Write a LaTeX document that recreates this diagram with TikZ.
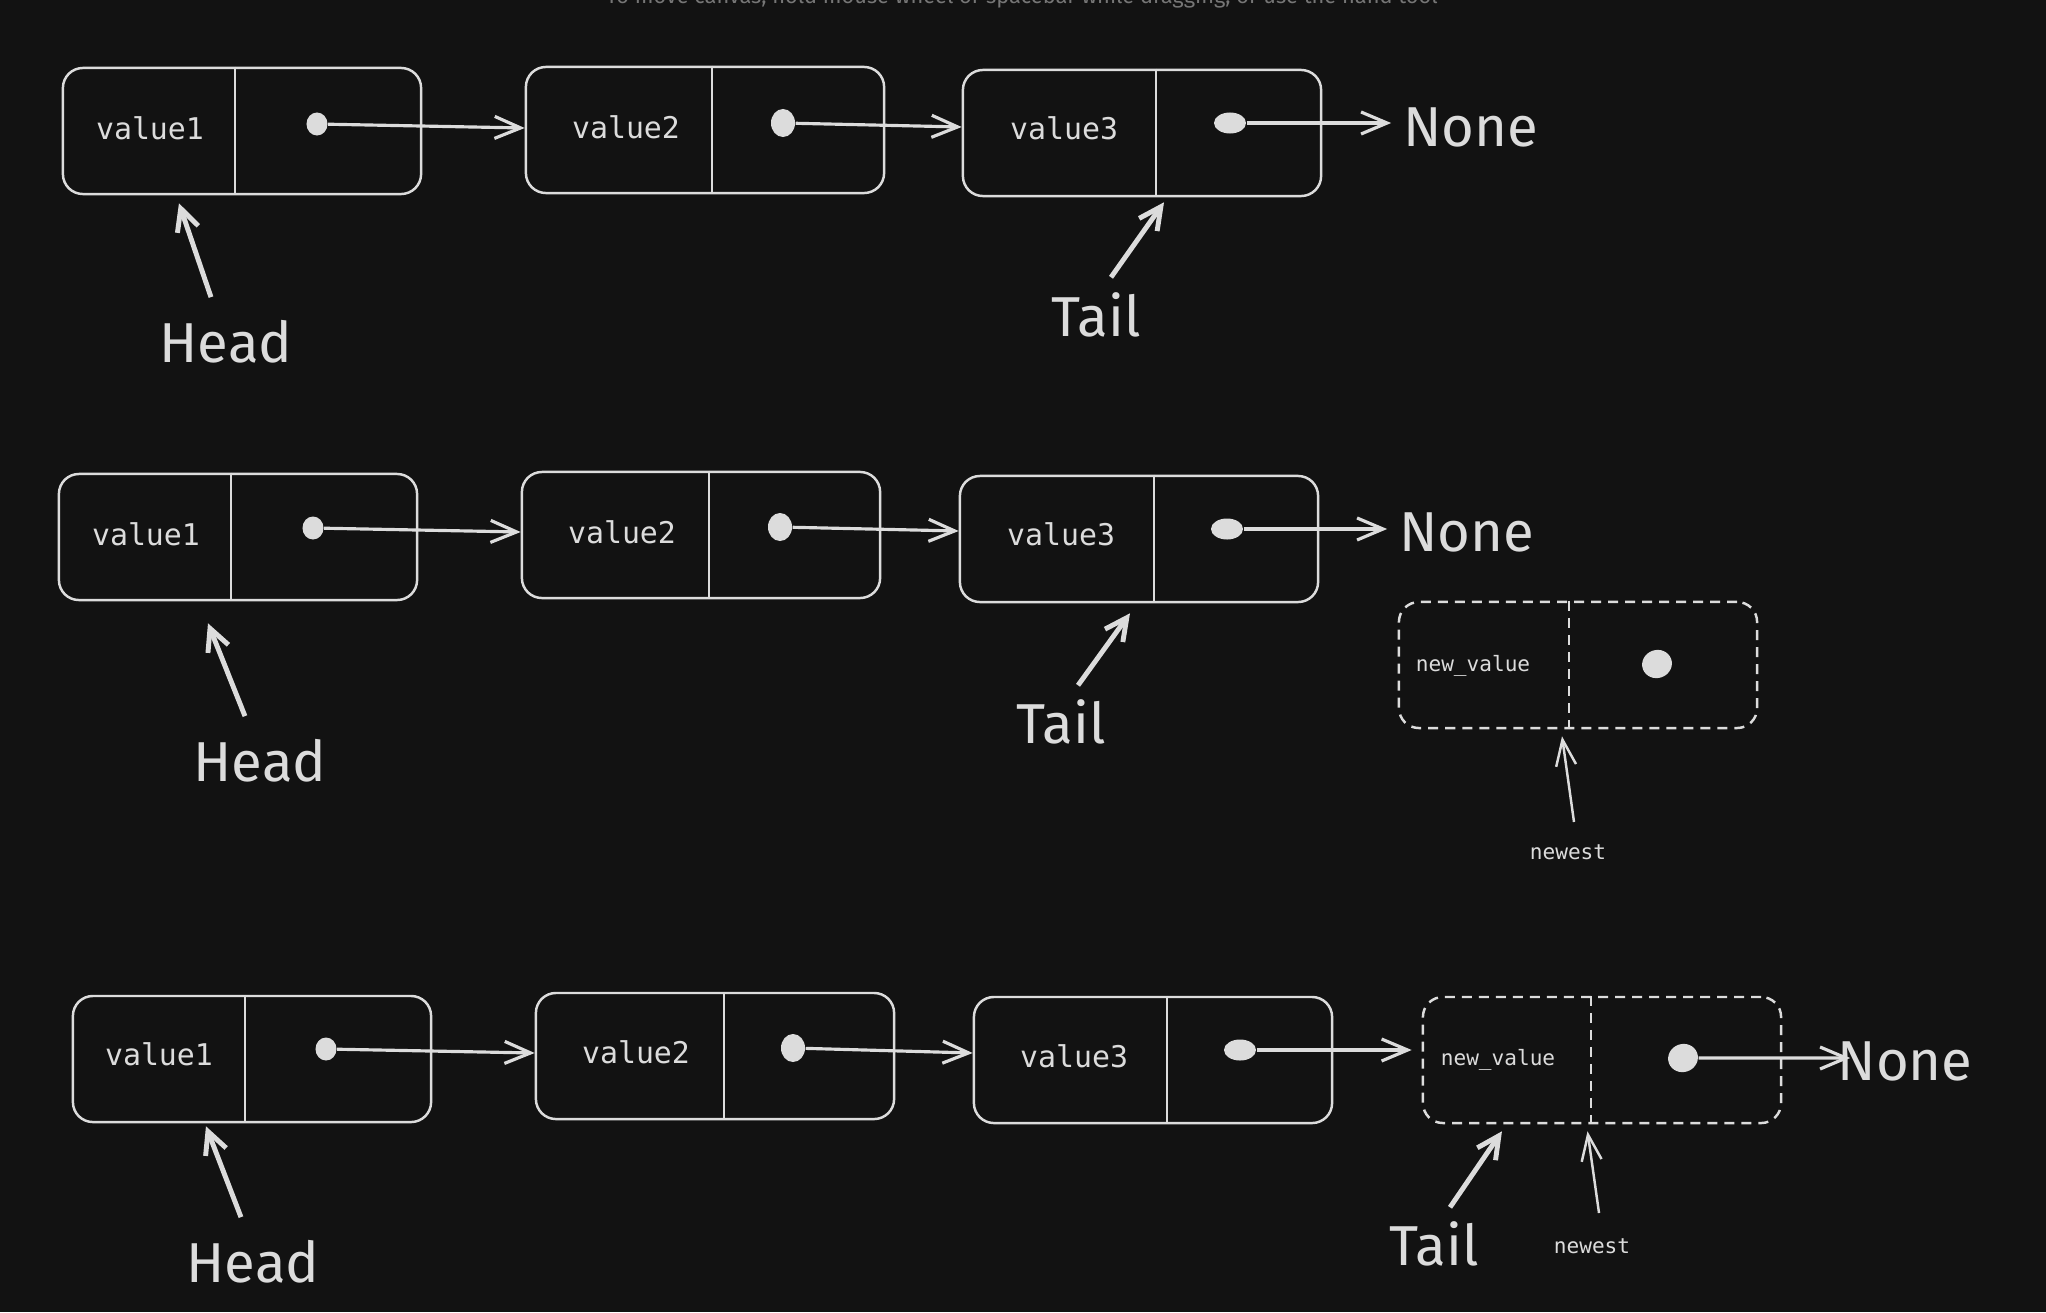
\documentclass[tikz,border=0pt]{standalone}
\usepackage{fontspec}
\usepackage{xcolor}
\setmainfont{Fira Sans}
\newfontfamily\codefont{DejaVu Sans Mono}
\usetikzlibrary{calc,arrows.meta,shapes.geometric}
\definecolor{bg}{HTML}{121212}
\definecolor{ink}{HTML}{DCDCDC}
\definecolor{hint}{HTML}{767676}

\begin{document}
\begin{tikzpicture}[x=0.01cm,y=-0.01cm]
        \tikzset{
          nodebox/.style={draw=ink,rounded corners=0.2cm,minimum width=3.58cm,minimum height=1.26cm,line width=0.7pt,inner sep=0pt},
          newbox/.style={nodebox,dash pattern=on 0.1cm off 0.07cm},
          divider/.style={draw=ink,line width=0.7pt},
          newdivider/.style={divider,dash pattern=on 0.1cm off 0.07cm},
          val/.style={text=ink,font=\codefont\fontsize{8.5}{10}\selectfont},
          smallval/.style={text=ink,font=\codefont\fontsize{6}{7}\selectfont},
          bigtext/.style={text=ink,font=\fontsize{16}{19}\selectfont},
          ptrdot/.style={fill=ink,ellipse,inner sep=0pt},
          link/.style={draw=ink,line width=0.9pt,-{Straight Barb[length=0.26cm,width=0.22cm]}},
          ptr/.style={draw=ink,line width=1.4pt,-{Straight Barb[length=0.22cm,width=0.22cm]}},
          thinptr/.style={draw=ink,line width=0.7pt,-{Straight Barb[length=0.26cm,width=0.2cm]}}
        }
        \useasboundingbox (0,0) rectangle (2046,1312);
        \fill[bg] (0,0) rectangle (2046,1312);
        \node[text=hint,font=\fontsize{6.2}{7}\selectfont,anchor=base] (hint) at (1022,4) {To move canvas, hold mouse wheel or spacebar while dragging, or use the hand tool};

        % first list
        \node[nodebox] (r1b1) at (242,131) {};
        \node[nodebox] (r1b2) at (705,130) {};
        \node[nodebox] (r1b3) at (1142,133) {};
        \draw[divider] ([xshift=-0.07cm]r1b1.north) -- ([xshift=-0.07cm]r1b1.south);
        \draw[divider] ([xshift=0.07cm]r1b2.north) -- ([xshift=0.07cm]r1b2.south);
        \draw[divider] ([xshift=0.14cm]r1b3.north) -- ([xshift=0.14cm]r1b3.south);
        \node[val] (r1v1) at (150,128) {value1};
        \node[val] (r1v2) at (626,127) {value2};
        \node[val] (r1v3) at (1064,128) {value3};
        \node[ptrdot,minimum width=0.21cm,minimum height=0.23cm] (r1d1) at (317,124) {};
        \node[ptrdot,minimum width=0.24cm,minimum height=0.28cm] (r1d2) at (783,123) {};
        \node[ptrdot,minimum width=0.32cm,minimum height=0.21cm] (r1d3) at (1230,123) {};
        \node[bigtext] (r1none) at (1471,127) {None};
        \node[bigtext] (r1head) at (226,342) {Head};
        \node[bigtext] (r1tail) at (1096,315) {Tail};

        \draw[link] (r1d1) -- ($(r1d1 -| r1b2.west)+(0,4)$);
        \draw[link] (r1d2) -- ($(r1d2 -| r1b3.west)+(0,4)$);
        \draw[link] (r1d3) -- (r1d3 -| r1none.west);
        \draw[ptr] ([xshift=-0.15cm,yshift=0.11cm]r1head.north) -- ([xshift=-0.63cm,yshift=-0.08cm]r1b1.south);
        \draw[ptr] ([xshift=0.15cm,yshift=0.03cm]r1tail.north) -- ([xshift=0.22cm,yshift=-0.05cm]r1b3.south);

        % second list
        \node[nodebox] (r2b1) at (238,537) {};
        \node[nodebox] (r2b2) at (701,535) {};
        \node[nodebox] (r2b3) at (1139,539) {};
        \node[newbox] (r2n) at (1578,665) {};
        \draw[divider] ([xshift=-0.07cm]r2b1.north) -- ([xshift=-0.07cm]r2b1.south);
        \draw[divider] ([xshift=0.08cm]r2b2.north) -- ([xshift=0.08cm]r2b2.south);
        \draw[divider] ([xshift=0.15cm]r2b3.north) -- ([xshift=0.15cm]r2b3.south);
        \draw[newdivider] ([xshift=-0.09cm]r2n.north) -- ([xshift=-0.09cm]r2n.south);
        \node[val] (r2v1) at (146,534) {value1};
        \node[val] (r2v2) at (622,532) {value2};
        \node[val] (r2v3) at (1061,534) {value3};
        \node[smallval] (r2nv) at (1473,666) {new\_value};
        \node[ptrdot,minimum width=0.21cm,minimum height=0.23cm] (r2d1) at (313,528) {};
        \node[ptrdot,minimum width=0.24cm,minimum height=0.28cm] (r2d2) at (780,527) {};
        \node[ptrdot,minimum width=0.32cm,minimum height=0.21cm] (r2d3) at (1227,529) {};
        \node[ptrdot,minimum width=0.3cm,minimum height=0.28cm,rotate=20] (r2nd) at (1657,664) {};
        \node[bigtext] (r2none) at (1467,532) {None};
        \node[bigtext] (r2head) at (260,761) {Head};
        \node[bigtext] (r2tail) at (1061,722) {Tail};
        \node[smallval] (r2newest) at (1568,852) {newest};

        \draw[link] (r2d1) -- ($(r2d1 -| r2b2.west)+(0,4)$);
        \draw[link] (r2d2) -- ($(r2d2 -| r2b3.west)+(0,4)$);
        \draw[link] (r2d3) -- (r2d3 -| r2none.west);
        \draw[ptr] ([xshift=-0.15cm,yshift=0.11cm]r2head.north) -- ([xshift=-0.3cm,yshift=-0.22cm]r2b1.south);
        \draw[ptr] ([xshift=0.17cm,yshift=0.02cm]r2tail.north) -- ([xshift=-0.09cm,yshift=-0.1cm]r2b3.south);
        \draw[thinptr] ([xshift=0.06cm,yshift=0.1cm]r2newest.north) -- ([xshift=-0.16cm,yshift=-0.07cm]r2n.south);

        % third list
        \node[nodebox] (r3b1) at (252,1059) {};
        \node[nodebox] (r3b2) at (715,1056) {};
        \node[nodebox] (r3b3) at (1153,1060) {};
        \node[newbox] (r3n) at (1602,1060) {};
        \draw[divider] ([xshift=-0.07cm]r3b1.north) -- ([xshift=-0.07cm]r3b1.south);
        \draw[divider] ([xshift=0.09cm]r3b2.north) -- ([xshift=0.09cm]r3b2.south);
        \draw[divider] ([xshift=0.14cm]r3b3.north) -- ([xshift=0.14cm]r3b3.south);
        \draw[newdivider] ([xshift=-0.11cm]r3n.north) -- ([xshift=-0.11cm]r3n.south);
        \node[val] (r3v1) at (159,1054) {value1};
        \node[val] (r3v2) at (636,1052) {value2};
        \node[val] (r3v3) at (1074,1056) {value3};
        \node[smallval] (r3nv) at (1498,1060) {new\_value};
        \node[ptrdot,minimum width=0.21cm,minimum height=0.23cm] (r3d1) at (326,1049) {};
        \node[ptrdot,minimum width=0.24cm,minimum height=0.28cm] (r3d2) at (793,1048) {};
        \node[ptrdot,minimum width=0.32cm,minimum height=0.21cm] (r3d3) at (1240,1050) {};
        \node[ptrdot,minimum width=0.3cm,minimum height=0.28cm,rotate=20] (r3nd) at (1683,1058) {};
        \node[bigtext] (r3none) at (1905,1061) {None};
        \node[bigtext] (r3head) at (253,1262) {Head};
        \node[bigtext] (r3tail) at (1434,1244) {Tail};
        \node[smallval] (r3newest) at (1592,1246) {newest};

        \draw[link] (r3d1) -- ($(r3d1 -| r3b2.west)+(0,4)$);
        \draw[link] (r3d2) -- ($(r3d2 -| r3b3.west)+(0,5)$);
        \draw[link,shorten >=0.1cm] (r3d3) -- (r3d3 -| r3n.west);
        \draw[link] (r3nd) -- ($(r3nd -| r3none.west)+(25,0)$);
        \draw[ptr] ([xshift=-0.12cm,yshift=0.11cm]r3head.north) -- ([xshift=-0.46cm,yshift=-0.03cm]r3b1.south);
        \draw[ptr] ([xshift=0.16cm,yshift=0.02cm]r3tail.north) -- ([xshift=-1cm,yshift=-0.07cm]r3n.south);
        \draw[thinptr] ([xshift=0.07cm,yshift=0.13cm]r3newest.north) -- ([xshift=-0.145cm,yshift=-0.07cm]r3n.south);
    \end{tikzpicture}
\end{document}
